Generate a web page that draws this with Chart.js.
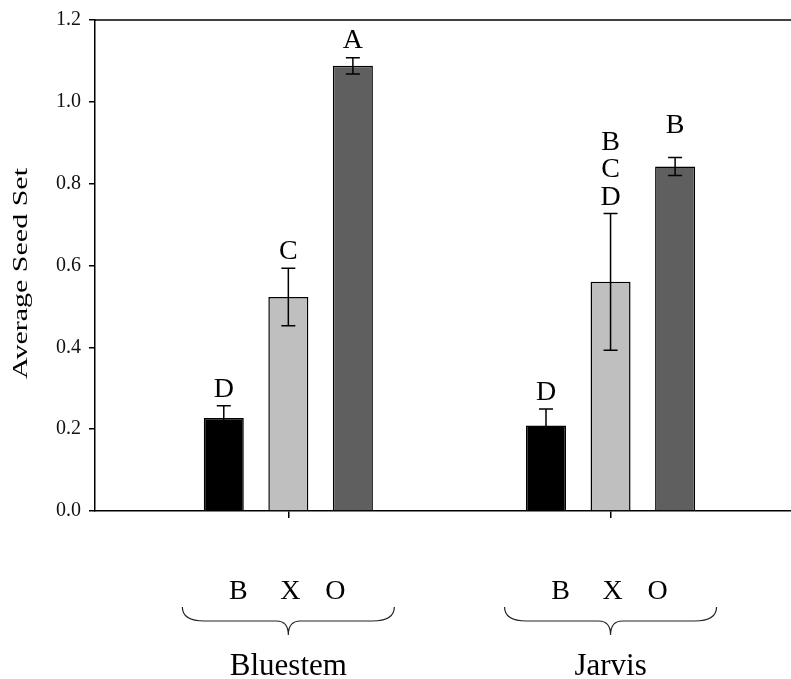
<!DOCTYPE html>
<html>
<head>
<meta charset="utf-8">
<script src="https://cdn.jsdelivr.net/npm/chart.js@4/dist/chart.umd.min.js"></script>
<style>
  html, body { margin: 0; padding: 0; background: #fff; }
  #wrap { width: 791px; height: 679px; }
</style>
</head>
<body>
<div id="wrap"><canvas id="seedChart" width="791" height="679"></canvas></div>
<script>
// data
const sites = ['Bluestem', 'Jarvis'];
const series = ['B', 'X', 'O'];
const bMeans = [0.227, 0.209];
const xMeans = [0.523, 0.560];
const oMeans = [1.088, 0.842];
const bErr = [0.030, 0.040];
const xErr = [0.070, 0.167];
const oErr = [0.020, 0.022];
const bLetters = ['D', 'D'];
const xLetters = ['C', 'BCD'];
const oLetters = ['A', 'B'];
const yTicks = [0, 0.2, 0.4, 0.6, 0.8, 1.0, 1.2];

const means = [bMeans, xMeans, oMeans];
const errs = [bErr, xErr, oErr];
const letters = [bLetters, xLetters, oLetters];
const fills = ['#000000', '#bfbfbf', '#5f5f5f'];
const serif = '"Liberation Serif", "Times New Roman", serif';

// error bars, significance letters and the group annotations under the axis
const decorPlugin = {
  id: 'decor',
  afterDatasetsDraw(chart, args, opts) {
    const ctx = chart.ctx;
    const yScale = chart.scales.y;
    ctx.save();
    ctx.strokeStyle = '#000';
    ctx.lineWidth = 1.5;
    series.forEach((name, d) => {
      const meta = chart.getDatasetMeta(d);
      meta.data.forEach((bar, i) => {
        const m = means[d][i], e = errs[d][i];
        const top = yScale.getPixelForValue(m + e);
        const bot = yScale.getPixelForValue(m - e);
        ctx.beginPath();
        ctx.moveTo(bar.x, top); ctx.lineTo(bar.x, bot);
        ctx.moveTo(bar.x - 7, top); ctx.lineTo(bar.x + 7, top);
        ctx.moveTo(bar.x - 7, bot); ctx.lineTo(bar.x + 7, bot);
        ctx.stroke();

        // letters stacked upward from just above the cap
        const txt = letters[d][i];
        ctx.fillStyle = '#000';
        ctx.font = '28px ' + serif;
        ctx.textAlign = 'center';
        ctx.textBaseline = 'alphabetic';
        let base = top - opts.letterGap - opts.extraLift[d][i];
        for (let k = txt.length - 1; k >= 0; k--) {
          ctx.fillText(txt[k], bar.x, base);
          base -= 27.5;
        }
      });
    });
    ctx.restore();
  },
  afterDraw(chart, args, opts) {
    const ctx = chart.ctx;
    const area = chart.chartArea;
    const xScale = chart.scales.x;
    ctx.save();

    // top frame line
    ctx.strokeStyle = '#000';
    ctx.lineWidth = 1.5;
    ctx.beginPath();
    ctx.moveTo(area.left, area.top);
    ctx.lineTo(area.right, area.top);
    ctx.stroke();

    // y axis title
    ctx.save();
    ctx.translate(22, (area.top + area.bottom) / 2 + 8);
    ctx.rotate(-Math.PI / 2);
    ctx.scale(1.5, 1);
    ctx.fillStyle = '#000';
    ctx.font = '20px ' + serif;
    ctx.textAlign = 'center';
    ctx.textBaseline = 'middle';
    ctx.fillText('Average Seed Set', 0, 0);
    ctx.restore();

    sites.forEach((site, i) => {
      const cx = xScale.getPixelForValue(i + 1);
      ctx.fillStyle = '#000';
      ctx.textAlign = 'center';
      ctx.textBaseline = 'alphabetic';
      ctx.font = '28px ' + serif;
      series.forEach((name, d) => {
        ctx.fillText(name, cx + opts.nameOffsets[d], 599);
      });

      // curly brace
      const x0 = cx - 106, x1 = cx + 106, y0 = 607, y1 = 621, y2 = 635;
      ctx.strokeStyle = '#222';
      ctx.lineWidth = 1.2;
      ctx.beginPath();
      ctx.moveTo(x0, y0);
      ctx.quadraticCurveTo(x0, y1, x0 + 22, y1);
      ctx.lineTo(cx - 12, y1);
      ctx.quadraticCurveTo(cx, y1, cx, y2);
      ctx.quadraticCurveTo(cx, y1, cx + 12, y1);
      ctx.lineTo(x1 - 22, y1);
      ctx.quadraticCurveTo(x1, y1, x1, y0);
      ctx.stroke();

      ctx.font = '31px ' + serif;
      ctx.fillText(site, cx, 675);
    });
    ctx.restore();
  }
};

const datasets = series.map((name, d) => ({
  label: name,
  data: sites.map((s, i) => ({ x: i + 1, y: means[d][i] })),
  backgroundColor: fills[d],
  borderColor: '#000',
  borderWidth: 1.5,
  categoryPercentage: 0.601,
  barPercentage: 0.62
}));

new Chart(document.getElementById('seedChart'), {
  type: 'bar',
  data: { datasets: datasets },
  options: {
    responsive: false,
    animation: false,
    layout: { padding: { left: 45, right: 0, top: 18, bottom: 161 } },
    plugins: {
      legend: { display: false },
      tooltip: { enabled: false },
      decor: {
        letterGap: 9,
        extraLift: [[0, 0], [0, 0], [1, 15]],
        nameOffsets: [-50, 2, 47]
      }
    },
    scales: {
      x: {
        type: 'linear',
        min: 0.4,
        max: 2.56,
        offset: false,
        afterBuildTicks: s => { s.ticks = sites.map((_, i) => ({ value: i + 1 })); },
        ticks: { display: false },
        grid: { offset: false, drawOnChartArea: false, drawTicks: true, tickLength: 7, color: '#000', lineWidth: 1.5 },
        border: { color: '#000', width: 1.5 }
      },
      y: {
        min: 0,
        max: 1.2,
        afterBuildTicks: s => { s.ticks = yTicks.map(v => ({ value: v })); },
        afterFit: s => { s.width = 50; },
        ticks: {
          color: '#111',
          padding: 8,
          font: { family: serif, size: 20 },
          callback: v => Number(v).toFixed(1)
        },
        grid: { drawOnChartArea: false, drawTicks: true, tickLength: 6, color: '#000', lineWidth: 1.5 },
        border: { color: '#000', width: 1.5 }
      }
    }
  },
  plugins: [decorPlugin]
});
</script>
</body>
</html>
